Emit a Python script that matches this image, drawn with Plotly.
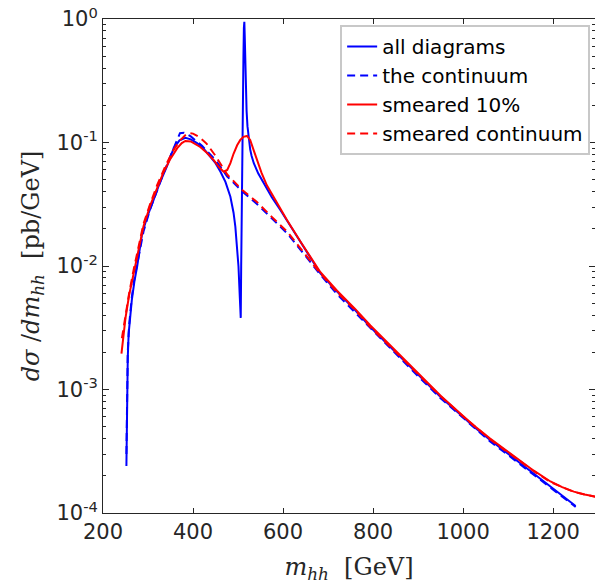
import plotly.graph_objects as go

# ---------------- data ----------------
all_x = [252, 253, 255, 257, 260, 264, 270, 276, 287, 300, 312, 325, 342, 357, 370, 383, 395,
         409, 425, 438, 450, 461, 472, 483, 490, 494, 498, 501, 504, 506, 507, 508, 509, 510,
         511, 512, 513, 514, 515, 516, 517, 518, 519, 521, 524, 527, 530, 535, 545, 557, 575, 594,
         615, 638, 660, 683, 720, 760, 794, 850, 900, 950, 1000, 1024, 1060, 1098, 1130, 1157,
         1194, 1220, 1250]
all_y = [2.4e-4, 8e-4, 1.8e-3, 2.85e-3, 4.0e-3, 5.3e-3, 7.6e-3, 1.0e-2, 1.85e-2, 2.6e-2, 3.4e-2,
         4.6e-2, 6.4e-2, 9.0e-2, 0.104, 0.109, 0.106, 0.099, 0.088, 0.077, 0.068, 0.058, 0.048,
         0.0364, 0.027, 0.0208, 0.0145, 0.0099, 0.0055, 0.0038, 0.01, 0.03, 0.07, 0.13, 0.25,
         0.5, 0.85, 0.95, 0.7, 0.45, 0.3, 0.22, 0.18, 0.135, 0.104, 0.088, 0.078, 0.068, 0.056,
         0.047, 0.036, 0.0284, 0.0215, 0.0162, 0.0118, 0.0087, 0.0062, 0.0044, 0.0032, 2.0e-3,
         1.31e-3, 8.7e-4, 6.0e-4, 5.0e-4, 3.9e-4, 3.05e-4, 2.48e-4, 2.1e-4, 1.63e-4, 1.38e-4,
         1.14e-4]

cont_x = [252, 253, 255, 258, 264, 270, 280, 290, 305, 320, 335, 350, 362, 371, 380, 395, 420,
          450, 476, 510, 542, 575, 609, 645, 683, 720, 760, 794, 850, 900, 950, 1000, 1024, 1060,
          1098, 1130, 1157, 1194, 1220, 1250]
cont_y = [3e-4, 1e-3, 2.0e-3, 3.3e-3, 5.6e-3, 8.0e-3, 0.0125, 0.019, 0.029, 0.041, 0.057, 0.078,
          0.1, 0.119, 0.12, 0.112, 0.094, 0.072, 0.053, 0.04, 0.0318, 0.0242, 0.0184, 0.0127,
          8.5e-3, 5.9e-3, 4.2e-3, 3.1e-3, 1.95e-3, 1.28e-3, 8.5e-4, 5.85e-4, 4.9e-4, 3.8e-4,
          2.98e-4, 2.42e-4, 2.05e-4, 1.6e-4, 1.36e-4, 1.12e-4]

sm_x = [241, 245, 250, 258, 268, 280, 290, 305, 320, 335, 350, 365, 375, 383, 395, 416, 430, 446,
        458, 468, 476, 483, 490, 498, 505, 512, 520, 527, 535, 542, 552, 564, 579, 594, 609, 640,
        683, 720, 760, 794, 850, 900, 950, 1000, 1024, 1060, 1098, 1130, 1157, 1194, 1220, 1246,
        1270, 1294]
sm_y = [1.95e-3, 2.8e-3, 3.8e-3, 5.8e-3, 8.8e-3, 0.0145, 0.021, 0.031, 0.043, 0.058, 0.074, 0.09,
        0.099, 0.103, 0.102, 0.092, 0.083, 0.072, 0.063, 0.058, 0.06, 0.068, 0.081, 0.095, 0.105,
        0.111, 0.113, 0.105, 0.086, 0.072, 0.057, 0.045, 0.036, 0.029, 0.0235, 0.0155, 0.0089,
        0.0063, 0.0045, 0.0033, 2.05e-3, 1.35e-3, 8.9e-4, 6.1e-4, 5.1e-4, 4.0e-4, 3.15e-4,
        2.6e-4, 2.2e-4, 1.8e-4, 1.62e-4, 1.49e-4, 1.41e-4, 1.36e-4]

smc_x = [242, 250, 258, 268, 280, 290, 305, 320, 340, 355, 370, 382, 390, 400, 415, 430, 450,
         476, 510, 542, 575, 609, 645, 683, 720, 760, 794, 850, 900, 950, 1000, 1060, 1098, 1157,
         1194, 1246, 1294]
smc_y = [2.6e-3, 4.0e-3, 6.0e-3, 9.3e-3, 0.015, 0.022, 0.032, 0.045, 0.066, 0.085, 0.103, 0.114,
         0.119, 0.118, 0.11, 0.098, 0.078, 0.055, 0.041, 0.033, 0.025, 0.019, 0.013, 8.7e-3,
         6.1e-3, 4.4e-3, 3.2e-3, 2.02e-3, 1.33e-3, 8.8e-4, 6.05e-4, 3.95e-4, 3.12e-4, 2.18e-4,
         1.78e-4, 1.48e-4, 1.35e-4]

series_names = ["all diagrams", "the continuum", "smeared 10%", "smeared continuum"]

x_ticks = [200, 400, 600, 800, 1000, 1200]
x_ticktext = ["200", "400", "600", "800", "1000", "1200"]
y_ticks = [1e-4, 1e-3, 1e-2, 1e-1, 1]
y_ticktext = ["10<sup>-4</sup>", "10<sup>-3</sup>", "10<sup>-2</sup>", "10<sup>-1</sup>", "10<sup>0</sup>"]

# ---------------- figure ----------------
BLUE = "#0000FF"
RED = "#FF0000"
DASH = "8px,5px"
AX = "#262626"
SANS = "DejaVu Sans, Arial, sans-serif"
SERIF = "DejaVu Serif, Liberation Serif, serif"
NB = "\u00a0"

fig = go.Figure()
fig.add_trace(go.Scatter(x=all_x, y=all_y, mode="lines", name=series_names[0],
                         line=dict(color=BLUE, width=2)))
fig.add_trace(go.Scatter(x=cont_x, y=cont_y, mode="lines", name=series_names[1],
                         line=dict(color=BLUE, width=2, dash=DASH)))
fig.add_trace(go.Scatter(x=sm_x, y=sm_y, mode="lines", name=series_names[2],
                         line=dict(color=RED, width=2)))
fig.add_trace(go.Scatter(x=smc_x, y=smc_y, mode="lines", name=series_names[3],
                         line=dict(color=RED, width=2, dash=DASH)))

minor_vals = [m * 10 ** e for e in range(-4, 0) for m in range(2, 10)]

fig.update_layout(
    template="none",
    width=595, height=584,
    margin=dict(l=103, r=0, t=19, b=71, pad=0),
    paper_bgcolor="white", plot_bgcolor="white",
    font=dict(family=SANS, size=21, color=AX),
    showlegend=True,
    legend=dict(
        x=0.482, y=0.988, xanchor="left", yanchor="top",
        bgcolor="white", bordercolor="#c8c8c8", borderwidth=2,
        font=dict(family=SANS, size=20, color="black"),
        tracegroupgap=0, itemwidth=30,
    ),
    xaxis=dict(
        range=[200, 1293], tickmode="array", tickvals=x_ticks, ticktext=x_ticktext,
        showline=True, linecolor=AX, linewidth=1, mirror="ticks",
        ticks="inside", ticklen=5, tickcolor=AX, showgrid=False, zeroline=False,
        automargin=False, ticklabeloverflow="allow",
        tickfont=dict(family=SANS, size=21, color=AX),
        title=dict(text="<i>m</i><sub><i>hh</i></sub>" + NB * 2 + "[GeV]",
                   font=dict(family=SERIF, size=24, color=AX),
                   standoff=14),
    ),
    yaxis=dict(
        type="log", range=[-4, 0], tickmode="array", tickvals=y_ticks, ticktext=y_ticktext,
        showline=True, linecolor=AX, linewidth=1, mirror="ticks",
        ticks="inside", ticklen=6, tickcolor=AX, showgrid=False, zeroline=False,
        automargin=False, ticklabeloverflow="allow",
        minor=dict(tickmode="array", tickvals=minor_vals, ticks="inside", ticklen=3,
                   tickcolor=AX, showgrid=False),
        tickfont=dict(family=SANS, size=21, color=AX),
        title=dict(text="<i>dσ</i>" + NB + "/<i>dm</i><sub><i>hh</i></sub>" + NB * 2 + "[pb/GeV]",
                   font=dict(family=SERIF, size=24, color=AX),
                   standoff=10),
    ),
)

fig.write_html(
    "out.html",
    config={"displayModeBar": False},
    post_script="document.body.style.margin='0px';document.body.style.overflow='hidden';",
)
